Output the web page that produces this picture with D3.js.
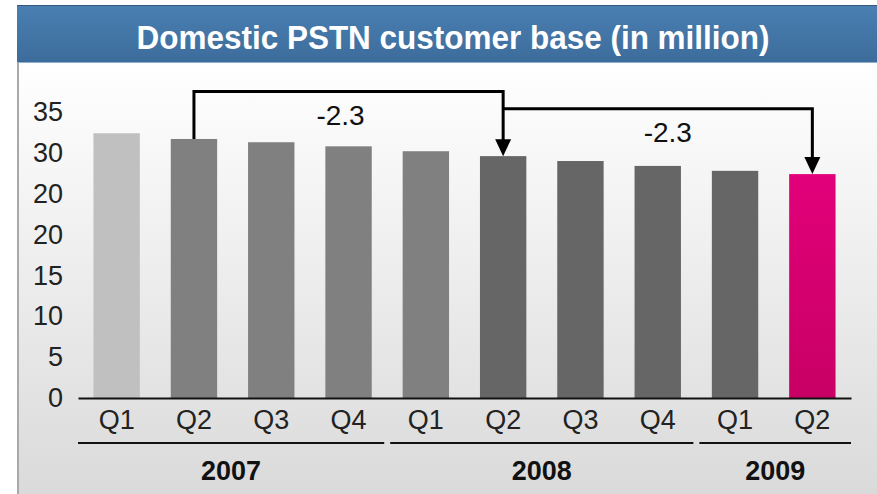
<!DOCTYPE html>
<html>
<head>
<meta charset="utf-8">
<script src="https://cdn.jsdelivr.net/npm/d3@7"></script>
<style>
  html, body { margin: 0; padding: 0; background: #fff; }
  svg { display: block; }
  text { font-family: "Liberation Sans Narrow", "Arial Narrow", "Liberation Sans", Arial, sans-serif; }
</style>
</head>
<body>
<svg id="chart" width="877" height="494"></svg>
<script>
// chart data
var quarters = ["Q1", "Q2", "Q3", "Q4", "Q1", "Q2", "Q3", "Q4", "Q1", "Q2"]
var years = ["2007", "2007", "2007", "2007", "2008", "2008", "2008", "2008", "2009", "2009"]
var customers = [32.4, 31.7, 31.3, 30.8, 30.2, 29.6, 29.0, 28.4, 27.8, 27.4]
var tickValues = [0, 5, 10, 15, 20, 25, 30, 35]
var tickLabels = ["0", "5", "10", "15", "20", "20", "30", "35"]
// year-on-year change brackets: from bar, to bar, label, bracket height (axis units)
var changeFrom = [1, 5]
var changeTo = [5, 9]
var changeLabels = ["-2.3", "-2.3"]
var changeLevels = [37.5, 35.4]
var title = "Domestic PSTN customer base (in million)"

var svg = d3.select("#chart"),
    W = +svg.attr("width"),
    H = +svg.attr("height"),
    panelLeft = 17,
    titleTop = 5,
    titleBottom = 63

var defs = svg.append("defs")
var bg = defs.append("linearGradient").attr("id", "bg").attr("x1", 0).attr("y1", 0).attr("x2", 0).attr("y2", 1)
bg.append("stop").attr("offset", "0%").attr("stop-color", "#ffffff")
bg.append("stop").attr("offset", "100%").attr("stop-color", "#dadada")
var tg = defs.append("linearGradient").attr("id", "tg").attr("x1", 0).attr("y1", 0).attr("x2", 0).attr("y2", 1)
tg.append("stop").attr("offset", "0%").attr("stop-color", "#4a7fb2")
tg.append("stop").attr("offset", "100%").attr("stop-color", "#3c6c9b")
var mg = defs.append("linearGradient").attr("id", "mg").attr("x1", 0).attr("y1", 0).attr("x2", 0).attr("y2", 1)
mg.append("stop").attr("offset", "0%").attr("stop-color", "#e2007a")
mg.append("stop").attr("offset", "100%").attr("stop-color", "#c80064")

// panel
svg.append("rect")
    .attr("x", panelLeft).attr("y", titleBottom)
    .attr("width", W - panelLeft).attr("height", H - titleBottom)
    .attr("fill", "url(#bg)")
svg.append("line")
    .attr("x1", panelLeft + 1).attr("x2", panelLeft + 1)
    .attr("y1", titleBottom).attr("y2", H)
    .attr("stroke", "#a9a9a9").attr("stroke-width", 2)

// title bar
svg.append("rect")
    .attr("x", panelLeft).attr("y", titleTop)
    .attr("width", W - panelLeft).attr("height", titleBottom - titleTop)
    .attr("fill", "url(#tg)")
svg.append("line")
    .attr("x1", panelLeft).attr("x2", W).attr("y1", titleTop + 0.5).attr("y2", titleTop + 0.5)
    .attr("stroke", "#35597e").attr("stroke-width", 1)
svg.append("line")
    .attr("x1", panelLeft).attr("x2", W).attr("y1", titleBottom - 0.5).attr("y2", titleBottom - 0.5)
    .attr("stroke", "#8fb0cf").attr("stroke-width", 1)
svg.append("text")
    .attr("x", 453).attr("y", 37)
    .attr("text-anchor", "middle").attr("dominant-baseline", "central")
    .attr("fill", "#fff").attr("font-size", 34).attr("font-weight", "bold")
    .attr("textLength", 633).attr("lengthAdjust", "spacingAndGlyphs")
    .text(title)

// scales
var x = d3.scaleBand()
    .domain(d3.range(customers.length))
    .range([78, 851])
    .paddingInner(0.4)
    .paddingOuter(0.2)

var y = d3.scaleLinear()
    .domain([0, 35])
    .range([398, 112])

function barColor(i) {
    if (i === customers.length - 1) return "url(#mg)"
    if (i === 0) return "#c0c0c0"
    if (years[i] === "2007" || i === 4) return "#808080"
    return "#666666"
}

var g = svg.append("g")

g.selectAll(".bar")
    .data(customers)
    .enter().append("rect")
    .attr("class", "bar")
    .attr("x", function (d, i) { return x(i) })
    .attr("y", function (d) { return y(d) })
    .attr("width", x.bandwidth())
    .attr("height", function (d) { return y(0) - y(d) })
    .attr("fill", function (d, i) { return barColor(i) })

// y axis: labels only
var yAxis = g.append("g")
    .attr("transform", "translate(63,0)")
    .call(d3.axisLeft(y).tickValues(tickValues).tickSize(0).tickPadding(0)
        .tickFormat(function (d, i) { return tickLabels[i] }))
yAxis.select(".domain").remove()
yAxis.selectAll("text")
    .attr("font-size", 27).attr("fill", "#222")
    .attr("font-family", "'Liberation Sans Narrow', 'Arial Narrow', sans-serif")

// x axis
var xAxis = g.append("g")
    .attr("transform", "translate(0," + y(0) + ")")
    .call(d3.axisBottom(x).tickSize(0).tickSizeOuter(0).tickPadding(12)
        .tickFormat(function (i) { return quarters[i] }))
xAxis.select(".domain").attr("stroke", "#111").attr("stroke-width", 2)
xAxis.selectAll("text")
    .attr("font-size", 27).attr("fill", "#222")
    .attr("font-family", "'Liberation Sans Narrow', 'Arial Narrow', sans-serif")

// year groups
var yearNames = Array.from(new Set(years))
var step = x.step()
yearNames.forEach(function (yr, k) {
    var idx = d3.range(years.length).filter(function (i) { return years[i] === yr })
    var first = idx[0], last = idx[idx.length - 1]
    var x0 = first === 0 ? x.range()[0] : x(first) - step * 0.2 + 3
    var x1 = last === years.length - 1 ? x.range()[1] : x(last) + x.bandwidth() + step * 0.2 - 3
    g.append("line")
        .attr("x1", x0).attr("x2", x1)
        .attr("y1", 443).attr("y2", 443)
        .attr("stroke", "#111").attr("stroke-width", 2)
    g.append("text")
        .attr("x", (x0 + x1) / 2).attr("y", 470)
        .attr("text-anchor", "middle").attr("dominant-baseline", "central")
        .attr("font-size", 28).attr("font-weight", "bold").attr("fill", "#111")
        .attr("font-family", "'Liberation Sans', Arial, sans-serif")
        .attr("textLength", 60).attr("lengthAdjust", "spacingAndGlyphs")
        .text(yr)
})

// change brackets with arrows
var arrowH = 17, arrowW = 8
var labelShift = [-8, 10]
changeFrom.forEach(function (from, k) {
    var to = changeTo[k]
    var xa = x(from) + x.bandwidth() / 2
    var xb = x(to) + x.bandwidth() / 2
    var top = y(changeLevels[k])
    var startY = k === 0 ? y(customers[from]) : top
    var tipY = y(customers[to])
    g.append("path")
        .attr("d", "M" + xa + "," + startY + "V" + top + "H" + xb + "V" + (tipY - arrowH + 2))
        .attr("fill", "none").attr("stroke", "#000").attr("stroke-width", 3)
        .attr("stroke-linejoin", "miter")
    g.append("path")
        .attr("d", "M" + (xb - arrowW) + "," + (tipY - arrowH) + "L" + (xb + arrowW) + "," + (tipY - arrowH) + "L" + xb + "," + tipY + "Z")
        .attr("fill", "#000")
    g.append("text")
        .attr("x", (xa + xb) / 2 + labelShift[k]).attr("y", top + 24)
        .attr("text-anchor", "middle").attr("dominant-baseline", "central")
        .attr("font-size", 28).attr("fill", "#111")
        .attr("font-family", "'Liberation Sans Narrow', 'Arial Narrow', sans-serif")
        .text(changeLabels[k])
})
</script>
</body>
</html>
